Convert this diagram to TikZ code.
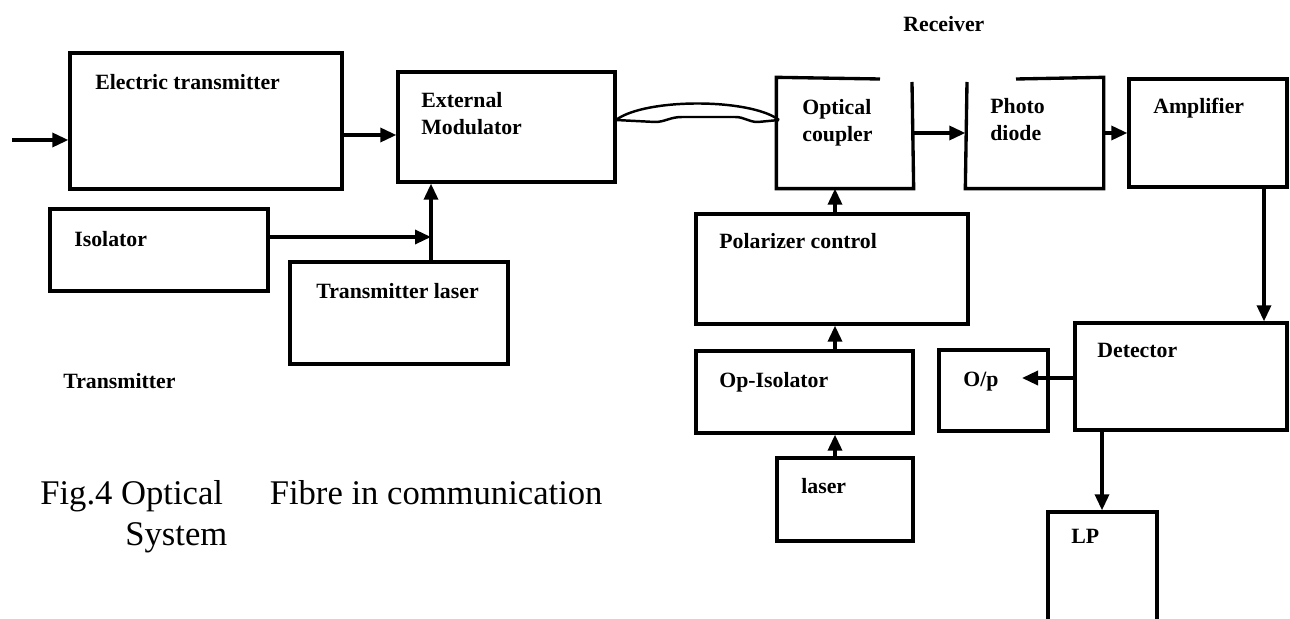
\documentclass[tikz,border=0pt]{standalone}
\usepackage{fontspec}
\setmainfont{Liberation Serif}
\usetikzlibrary{arrows.meta,fit}

\tikzset{
    blk/.style={draw, line width=1.9pt, inner sep=0pt},
    gapblk/.style={blk, draw=none},
    edge/.style={line width=1.9pt},
    lbl/.style={font=\fontsize{12.4}{15.3}\selectfont\bfseries, anchor=north west, align=left, inner sep=0pt},
    caption/.style={font=\fontsize{19.7}{24}\selectfont, anchor=base west, inner sep=0pt},
    arr/.style={line width=1.9pt, -{Triangle[length=3.2mm,width=2.8mm]}},
    fibre/.style={line width=1.4pt}
}

\begin{document}
\begin{tikzpicture}[x=0.2mm, y=-0.2mm]

    \useasboundingbox (0,0) rectangle (1290,619);

    \node[lbl] (etx-t) at (95,74) {Electric transmitter};
    \node[blk, fit={(70,53) (342,189)}] (etx) {};

    \node[lbl] (em-t) at (421,92) {External\\Modulator};
    \node[blk, fit={(398,72) (615,182)}] (em) {};

    \node[lbl] (iso-t) at (74,231) {Isolator};
    \node[blk, fit={(50,209) (268,291)}] (iso) {};

    \node[lbl] (tl-t) at (316,283) {Transmitter laser};
    \node[blk, fit={(290,262) (508,364)}] (tl) {};

    \node[lbl] (tx-t) at (63,373) {Transmitter};
    \node[lbl] (rx-t) at (903,16) {Receiver};

    \node[lbl] (cpl-t) at (802,99) {Optical\\coupler};
    \node[gapblk, fit={(778,79) (912,187)}] (cpl) {};
    \draw[edge] (880,79) -- (cpl.north west) -- (cpl.south west) -- (cpl.south east) -- (912,82);

    \node[lbl] (pd-t) at (990,98) {Photo\\diode};
    \node[gapblk, fit={(967,79) (1102,187)}] (pd) {};
    \draw[edge] (1016,79) -- (pd.north east) -- (pd.south east) -- (pd.south west) -- (967,82);

    \node[lbl] (amp-t) at (1153,98) {Amplifier};
    \node[blk, fit={(1129,79) (1287,187)}] (amp) {};

    \node[lbl] (pc-t) at (719,233) {Polarizer control};
    \node[blk, fit={(696,214) (968,324)}] (pc) {};

    \node[lbl] (opi-t) at (719,372) {Op-Isolator};
    \node[blk, fit={(696,351) (913,433)}] (opi) {};

    \node[lbl] (lasr-t) at (801,478) {laser};
    \node[blk, fit={(777,458) (913,541)}] (lasr) {};

    \node[lbl] (op-t) at (963,372) {O/p};
    \node[blk, fit={(939,350) (1048,431)}] (op) {};

    \node[lbl] (det-t) at (1097,343) {Detector};
    \node[blk, fit={(1075,323) (1287,430)}] (det) {};

    \node[lbl] (lp-t) at (1071,529) {LP};
    \node[blk, fit={(1048,512) (1157,625)}] (lp) {};

    \node[caption] (cap1) at (40,505) {Fig.4 Optical\hspace{1.35em}Fibre in communication};
    \node[caption] (cap2) at (125,546) {System};

    \coordinate (inp) at (12,140);
    \coordinate (jn) at (431,237);
    \coordinate (opin) at (1022,378);
    \coordinate (fibA) at (616,120);
    \coordinate (fibB) at (779,120);

    \draw[arr] (inp) -- (inp -| etx.west);
    \draw[arr] (etx.east |- 0,135) -- (em.west |- 0,135);
    \draw[arr] (iso.east |- jn) -- (jn);
    \draw[arr] (tl.north -| jn) -- (em.south -| jn);

    \draw[fibre] (fibA) .. controls (645,98) and (750,98) .. (fibB);
    \draw[fibre] (fibA) -- (655,122) .. controls (665,122) and (670,117) .. (682,117)
        -- (735,117) .. controls (745,117) and (748,122) .. (758,122) -- (fibB);

    \draw[arr] (cpl.east) -- (pd.west);
    \draw[arr] (pd.east) -- (amp.west);
    \draw[arr] (amp.south -| 1264,0) -- (det.north -| 1264,0);
    \draw[arr] (det.west |- opin) -- (opin);
    \draw[arr] (det.south -| 1102,0) -- (lp.north -| 1102,0);

    \draw[arr] (lasr.north -| 835,0) -- (opi.south -| 835,0);
    \draw[arr] (opi.north -| 835,0) -- (pc.south -| 835,0);
    \draw[arr] (pc.north -| 835,0) -- (cpl.south -| 835,0);

\end{tikzpicture}
\end{document}
